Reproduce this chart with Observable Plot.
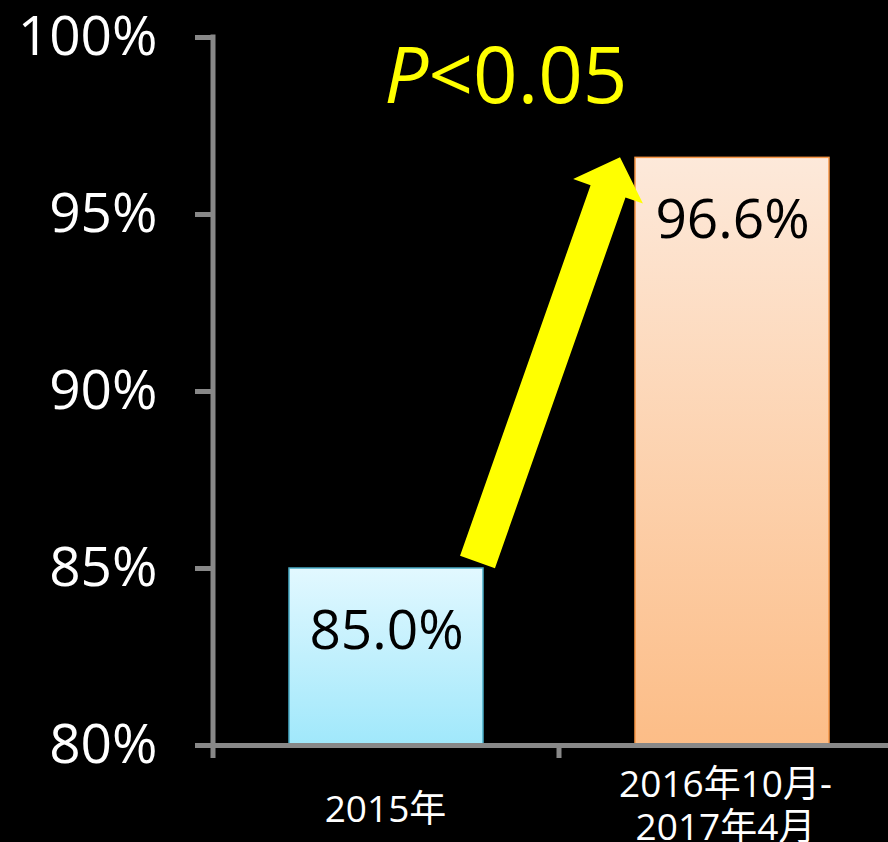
<!DOCTYPE html>
<html>
<head>
<meta charset="utf-8">
<script src="https://cdn.jsdelivr.net/npm/d3@7"></script>
<script src="https://cdn.jsdelivr.net/npm/@observablehq/plot@0.6"></script>
<style>
  html, body { margin: 0; padding: 0; background: #000; overflow: hidden; }
  #chart svg { display: block; }
</style>
</head>
<body>
<div id="chart"></div>
<script>
// ---- data ----
const categories = ["2015年", "2016年10月-\n2017年4月"];
const values = [85.0, 96.6];
const valueLabels = ["85.0%", "96.6%"];
const yTicks = [80, 85, 90, 95, 100];
const pItalic = "P";
const pRest = "<0.05";

// ---- styles ----
const barTop = ["#e2f8ff", "#fde9da"];
const barBottom = ["#a0e8fb", "#fcbd87"];
const barStroke = ["#4aacc6", "#f79646"];
const xLabelDy = [63, 59];
const xLabelDx = [-1, -7];
const axisColor = "#888888";
const font = "'Open Sans', 'Noto Sans CJK TC', sans-serif";

const table = categories.map((c, i) => ({category: c, value: values[i], label: valueLabels[i]}));

function gradientDefs() {
  const defs = d3.create("svg:defs");
  barTop.forEach((top, i) => {
    const g = defs.append("linearGradient").attr("id", "barGrad" + i)
      .attr("x1", 0).attr("y1", 0).attr("x2", 0).attr("y2", 1);
    g.append("stop").attr("offset", "0%").attr("stop-color", top);
    g.append("stop").attr("offset", "100%").attr("stop-color", barBottom[i]);
  });
  return defs.node();
}

function axisLines(index, scales) {
  const {x, y} = scales;
  const g = d3.create("svg:g").attr("stroke", axisColor).attr("stroke-width", 5);
  const left = x.range()[0];
  // y axis line
  g.append("line").attr("x1", left).attr("x2", left)
    .attr("y1", y(yTicks[yTicks.length - 1]) - 2.5).attr("y2", y(yTicks[0]) + 2.5);
  // x ticks at band boundaries
  const off = (x.step() - x.bandwidth()) / 2;
  const bounds = categories.map(c => x(c) - off);
  bounds.push(bounds[bounds.length - 1] + x.step());
  bounds.forEach(b => {
    g.append("line").attr("x1", b).attr("x2", b)
      .attr("y1", y(yTicks[0])).attr("y2", y(yTicks[0]) + 13);
  });
  return g.node();
}

function arrowMark(index, scales) {
  const {x, y} = scales;
  const bx = x(categories[0]) + x.bandwidth() - 5.5, by = y(values[0]) - 6;
  const tx = x(categories[1]) - 15, ty = y(values[1]);
  const dx = tx - bx, dy = ty - by, L = Math.hypot(dx, dy);
  const ux = dx / L, uy = dy / L;
  const nx = -uy, ny = ux;
  const sw = 18.5, hw = 37, hl = 36;
  const hx = tx - ux * hl, hy = ty - uy * hl;
  const pts = [
    [bx + nx * sw, by + ny * sw],
    [hx + nx * sw, hy + ny * sw],
    [hx + nx * hw, hy + ny * hw],
    [tx, ty],
    [hx - nx * hw, hy - ny * hw],
    [hx - nx * sw, hy - ny * sw],
    [bx - nx * sw, by - ny * sw]
  ];
  return d3.create("svg:path")
    .attr("d", "M" + pts.map(p => p.join(",")).join("L") + "Z")
    .attr("fill", "#ffff00").node();
}

const chart = Plot.plot({
  width: 888,
  height: 842,
  marginLeft: 213,
  marginRight: 0,
  marginTop: 37,
  marginBottom: 97,
  style: {background: "#000", color: "#fff", fontFamily: font, overflow: "hidden"},
  x: {domain: categories, range: [213, 905], paddingInner: 0.44, paddingOuter: 0.22, axis: null},
  y: {domain: [80, 100], label: null},
  marks: [
    gradientDefs,
    ...table.map((d, i) => Plot.barY([d], {
      x: "category", y1: () => 80, y2: "value",
      fill: `url(#barGrad${i})`, stroke: barStroke[i], strokeWidth: 1.5
    })),
    Plot.ruleY([yTicks[0]], {stroke: axisColor, strokeWidth: 5}),
    Plot.axisY({
      ticks: yTicks, tickSize: 18, tickPadding: 38, label: null,
      tickFormat: d => d + "%", fontSize: 55,
      stroke: axisColor, strokeWidth: 5, fill: "#fff"
    }),
    axisLines,
    arrowMark,
    Plot.text(table, {
      x: "category", y: "value", text: "label", dy: 63,
      fontSize: 55, fill: "#000", lineAnchor: "middle"
    }),
    ...table.map((d, i) => Plot.text([d], {
      x: "category", y: () => yTicks[0], text: "category",
      dy: xLabelDy[i], dx: xLabelDx[i], fontSize: 37, lineHeight: 1.16,
      fill: "#fff", lineAnchor: "middle"
    })),
    Plot.text([pItalic], {
      frameAnchor: "top-left", text: d => d, dx: 215, dy: 41,
      textAnchor: "end", fontStyle: "italic", fontSize: 78, fill: "#ffff00", lineAnchor: "middle"
    }),
    Plot.text([pRest], {
      frameAnchor: "top-left", text: d => d, dx: 215, dy: 41,
      textAnchor: "start", fontSize: 78, fill: "#ffff00", lineAnchor: "middle"
    })
  ]
});

document.getElementById("chart").appendChild(chart);
</script>
</body>
</html>
